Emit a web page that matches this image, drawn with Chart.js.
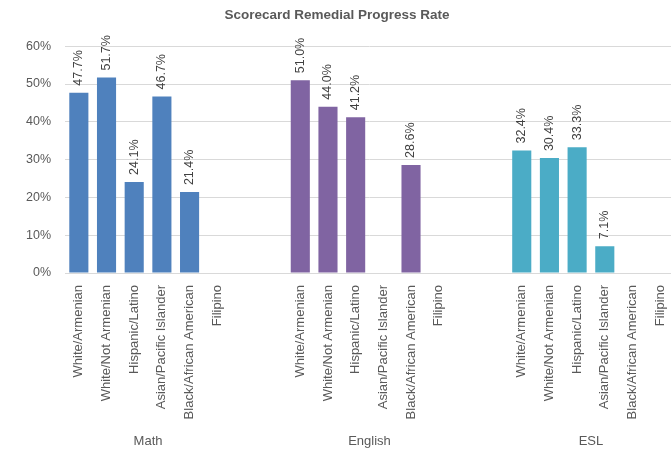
<!DOCTYPE html>
<html>
<head>
<meta charset="utf-8">
<script src="https://cdn.jsdelivr.net/npm/chart.js@4"></script>
<style>
  body { margin: 0; background: #fff; overflow: hidden; }
  canvas { display: block; }
</style>
</head>
<body>
<canvas id="myChart" width="674" height="453"></canvas>
<script>
// categories, blank slots between the groups
var subjects = ["Math", "English", "ESL"];
var groups = ["White/Armenian", "White/Not Armenian", "Hispanic/Latino",
  "Asian/Pacific Islander", "Black/African American", "Filipino"];
var mathRates = [0.477, 0.517, 0.241, 0.467, 0.214, null];
var englishRates = [0.510, 0.440, 0.412, null, 0.286, null];
var eslRates = [0.324, 0.304, 0.333, 0.071, null, null];
var subjectColors = ["#4F81BD", "#8064A2", "#4BACC6"];
var yTicks = [0, 0.1, 0.2, 0.3, 0.4, 0.5, 0.6];

var labels = [];
var values = [];
var colors = [];
var groupStart = [];
[mathRates, englishRates, eslRates].forEach(function (rates, g) {
  if (g > 0) {
    labels.push("", "");
    values.push(null, null);
    colors.push("transparent", "transparent");
  }
  groupStart.push(labels.length);
  for (var i = 0; i < groups.length; i++) {
    labels.push(groups[i]);
    values.push(rates[i]);
    colors.push(subjectColors[g]);
  }
});

var font = "'Liberation Sans', Arial, sans-serif";

var barLabels = {
  id: "barLabels",
  afterDatasetsDraw: function (chart) {
    var ctx = chart.ctx;
    var meta = chart.getDatasetMeta(0);
    ctx.save();
    ctx.font = "12.5px " + font;
    ctx.fillStyle = "#404040";
    ctx.textAlign = "left";
    ctx.textBaseline = "middle";
    meta.data.forEach(function (bar, i) {
      var v = values[i];
      if (v === null) return;
      ctx.save();
      ctx.translate(bar.x, bar.y - 7);
      ctx.rotate(-Math.PI / 2);
      ctx.fillText((v * 100).toFixed(1) + "%", 0, 0);
      ctx.restore();
    });
    ctx.restore();
  }
};

var groupLabels = {
  id: "groupLabels",
  afterDraw: function (chart) {
    var ctx = chart.ctx;
    var x = chart.scales.x;
    ctx.save();
    ctx.font = "13px " + font;
    ctx.fillStyle = "#595959";
    ctx.textAlign = "center";
    ctx.textBaseline = "middle";
    subjects.forEach(function (s, g) {
      var a = x.getPixelForValue(groupStart[g]);
      var b = x.getPixelForValue(groupStart[g] + groups.length - 1);
      ctx.fillText(s, (a + b) / 2, 441);
    });
    ctx.restore();
  }
};

new Chart("myChart", {
  type: "bar",
  data: {
    labels: labels,
    datasets: [
      {
        data: values,
        backgroundColor: colors,
        barPercentage: 0.69,
        categoryPercentage: 1,
      },
    ],
  },
  options: {
    responsive: false,
    animation: false,
    devicePixelRatio: 1,
    layout: { padding: 0 },
    plugins: {
      legend: { display: false },
      tooltip: { enabled: false },
      title: {
        display: true,
        text: "Scorecard Remedial Progress Rate",
        color: "#595959",
        font: { family: font, size: 13.5, weight: "bold" },
        padding: { top: 7, bottom: 23 },
      },
    },
    scales: {
      x: {
        grid: { display: false },
        border: { color: "#d9d9d9" },
        ticks: {
          color: "#595959",
          font: { family: font, size: 13 },
          minRotation: 90,
          maxRotation: 90,
          autoSkip: false,
          padding: 4,
        },
        afterFit: function (scale) {
          scale.height = 180;
          scale.paddingLeft = 0;
          scale.paddingRight = 0;
        },
      },
      y: {
        min: 0,
        max: 0.6,
        afterBuildTicks: function (scale) {
          scale.ticks = yTicks.map(function (v) { return { value: v }; });
        },
        grid: { color: "#d9d9d9", drawTicks: false },
        border: { display: false },
        ticks: {
          color: "#595959",
          font: { family: font, size: 12.5 },
          padding: 14,
          callback: function (v) { return Math.round(v * 100) + "%"; },
        },
        afterFit: function (scale) {
          scale.width = 65;
          scale.paddingTop = 0;
          scale.paddingBottom = 0;
        },
      },
    },
  },
  plugins: [barLabels, groupLabels],
});
</script>
</body>
</html>
